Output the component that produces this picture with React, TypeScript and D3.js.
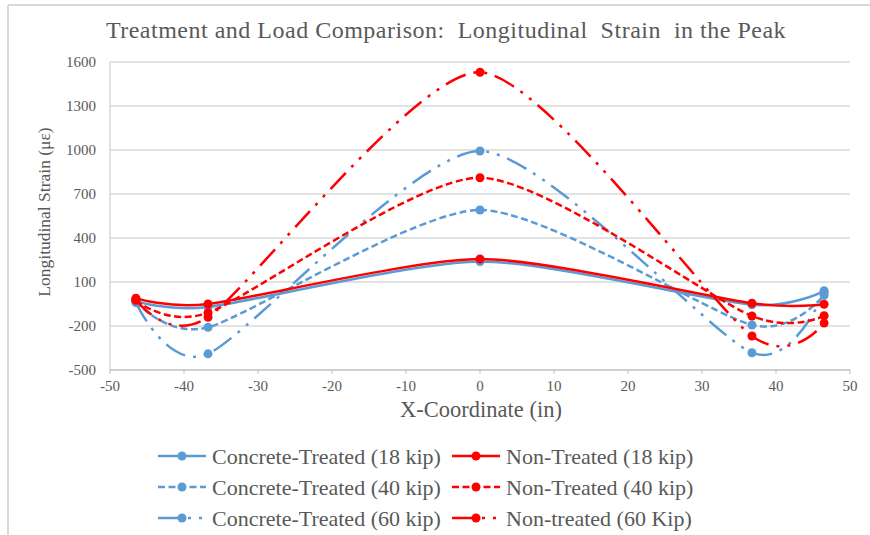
import React from "react";
import * as d3 from "d3";

// x positions of the gauges (in)
const xCoords = [-46.5, -36.75, 0, 36.75, 46.5];

// longitudinal strain readings (microstrain)
const concrete18 = [-30, -70, 240, -55, 40];
const concrete40 = [-35, -209, 591, -193, 10];
const concrete60 = [-40, -390, 993, -382, 30];
const non18 = [-10, -50, 257, -45, -52];
const non40 = [-25, -110, 811, -132, -130];
const non60 = [-20, -140, 1530, -268, -180];

const seriesNames = [
  "Concrete-Treated (18 kip)",
  "Non-Treated (18 kip)",
  "Concrete-Treated (40 kip)",
  "Non-Treated (40 kip)",
  "Concrete-Treated (60 kip)",
  "Non-treated (60 Kip)",
];
const seriesValues = [concrete18, non18, concrete40, non40, concrete60, non60];

const xTicks = [-50, -40, -30, -20, -10, 0, 10, 20, 30, 40, 50];
const yTicks = [-500, -200, 100, 400, 700, 1000, 1300, 1600];

const BLUE = "#5b9bd5";
const RED = "#ff0000";
const TEXT = "#595959";
const FONT = "'Liberation Serif', 'Times New Roman', serif";

// dash pattern by load level
const dashes = [null, "7,3.5", "22,8,3,8,3,8"];

const App = () => {
  const x = d3.scaleLinear().domain([-50, 50]).range([110, 850]);
  const y = d3.scaleLinear().domain([-500, 1600]).range([370, 62]);

  const line = d3
    .line<[number, number]>()
    .x((d) => x(d[0]))
    .y((d) => y(d[1]))
    .curve(d3.curveCardinal.tension(0.3));

  const series = seriesValues.map((vals, i) => ({
    name: seriesNames[i],
    color: i % 2 === 0 ? BLUE : RED,
    dash: dashes[Math.floor(i / 2)],
    pts: vals.map((v, j) => [xCoords[j], v] as [number, number]),
  }));

  // draw blue first, red on top like the original
  const drawOrder = [0, 2, 4, 1, 3, 5];

  return (
    <svg
      width={870}
      height={535}
      style={{ position: "absolute", left: 0, top: 0, background: "#fff", fontFamily: FONT }}
    >
      {/* chart frame */}
      <line x1={8} x2={870} y1={5} y2={5} stroke="#d9d9d9" strokeWidth={2} />
      <line x1={8} x2={8} y1={5} y2={535} stroke="#d9d9d9" strokeWidth={2} />

      <text
        x={446}
        y={38}
        textAnchor="middle"
        fontSize={24}
        letterSpacing={0.5}
        fill={TEXT}
        style={{ whiteSpace: "pre" }}
      >
        {"Treatment and Load Comparison:  Longitudinal  Strain  in the Peak"}
      </text>

      {/* gridlines */}
      {yTicks.map((t) => (
        <g key={t}>
          {t !== -500 && (
            <line x1={x(-50)} x2={x(50)} y1={y(t)} y2={y(t)} stroke="#d9d9d9" strokeWidth={1.5} />
          )}
          <text x={96} y={y(t)} dy="0.35em" textAnchor="end" fontSize={15} fill={TEXT}>
            {t}
          </text>
        </g>
      ))}

      {/* axes */}
      <line x1={x(-50)} x2={x(-50)} y1={y(1600)} y2={y(-500)} stroke="#d9d9d9" strokeWidth={1.5} />
      <line x1={x(-50)} x2={x(50)} y1={y(-500)} y2={y(-500)} stroke="#bfbfbf" strokeWidth={1.5} />
      {xTicks.map((t) => (
        <g key={t}>
          <line x1={x(t)} x2={x(t)} y1={y(-500)} y2={y(-500) + 4} stroke="#bfbfbf" strokeWidth={1} />
          <text x={x(t)} y={391} textAnchor="middle" fontSize={15} fill={TEXT}>
            {t}
          </text>
        </g>
      ))}

      <text x={481} y={417} textAnchor="middle" fontSize={22.5} fill={TEXT}>
        X-Coordinate (in)
      </text>
      <text
        transform={`translate(50, 212) rotate(-90)`}
        textAnchor="middle"
        fontSize={17.5}
        fill={TEXT}
      >
        Longitudinal Strain (με)
      </text>

      {/* series */}
      {drawOrder.map((i) => {
        const s = series[i];
        return (
          <g key={s.name}>
            <path
              d={line(s.pts) || ""}
              fill="none"
              stroke={s.color}
              strokeWidth={2.5}
              strokeDasharray={s.dash || undefined}
            />
            {s.pts.map((p, j) => (
              <circle key={j} cx={x(p[0])} cy={y(p[1])} r={4.5} fill={s.color} />
            ))}
          </g>
        );
      })}

      {/* legend */}
      {series.map((s, i) => {
        const col = i % 2;
        const row = Math.floor(i / 2);
        const lx = col === 0 ? 158 : 452;
        const ly = 456 + row * 31;
        return (
          <g key={s.name} transform={`translate(${lx}, ${ly})`}>
            <line
              x1={0}
              x2={48}
              y1={0}
              y2={0}
              stroke={s.color}
              strokeWidth={2.5}
              strokeDasharray={s.dash || undefined}
            />
            <circle cx={24} cy={0} r={4.5} fill={s.color} />
            <text x={54} y={0} dy="0.35em" fontSize={22} fill={TEXT}>
              {s.name}
            </text>
          </g>
        );
      })}
    </svg>
  );
};

export default App;
